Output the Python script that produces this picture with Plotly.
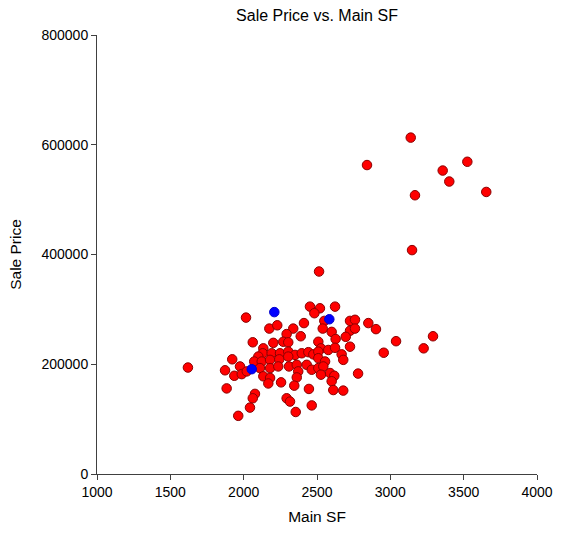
import plotly.graph_objects as go

# Main floor area (sq ft) and sale price for each sold home
main_sf = [
    1620, 3139, 2841, 3357, 3525, 3402, 3168, 3654, 3148, 2514,
    2623, 2016, 2452, 2520, 2482, 2411, 2175, 2229, 2550, 2539,
    2725, 2759, 2850, 2902, 2600, 2725, 2759, 2338, 2293, 2389,
    2627, 2696, 2062, 2202, 2270, 2304, 2509, 2134, 2527, 2577,
    2623, 2725, 2130, 2191, 2248, 2304, 2350, 2396, 2441, 2475,
    2509, 2668, 2679, 1922, 2100, 1873, 1975, 1936, 1987, 2021,
    2072, 2123, 2180, 2243, 2304, 2111, 2180, 2236, 2309, 2134,
    2180, 2168, 2255, 1884, 2077, 2062, 2043, 1963, 2293, 2316,
    2509, 2555, 2362, 2372, 2362, 2430, 2464, 2509, 2543, 2527,
    2589, 2618, 2600, 2345, 2445, 2611, 2679, 2780, 2464, 2355,
    3039, 2955, 3291, 3227,
]
sale_price = [
    194000, 613000, 563000, 553000, 569000, 533000, 508000, 514000, 408000, 369000,
    305000, 285000, 305000, 302000, 293000, 275000, 265000, 271000, 279000, 265000,
    279000, 281000, 275000, 264000, 259000, 261000, 265000, 265000, 255000, 251000,
    246000, 250000, 240000, 239000, 241000, 240000, 241000, 229000, 229000, 226000,
    230000, 232000, 220000, 220000, 220000, 223000, 217000, 220000, 222000, 218000,
    223000, 218000, 208000, 209000, 214000, 189000, 196000, 179000, 182000, 187000,
    205000, 205000, 208000, 209000, 214000, 193000, 193000, 196000, 196000, 178000,
    175000, 165000, 167000, 156000, 146000, 138000, 121000, 106000, 138000, 132000,
    211000, 205000, 199000, 187000, 176000, 199000, 190000, 193000, 196000, 181000,
    184000, 179000, 169000, 161000, 155000, 153000, 152000, 183000, 125000, 113000,
    242000, 221000, 251000, 229000,
]

# Highlighted homes
hl_main_sf = [2055, 2209, 2584]
hl_sale_price = [191000, 295000, 282000]

FONT = "Liberation Sans, Arial, sans-serif"
AXIS_COLOR = "#404040"

fig = go.Figure()
fig.add_trace(go.Scatter(
    x=main_sf, y=sale_price, mode="markers",
    marker=dict(size=9.5, color="#FF0000", line=dict(color="#8B0000", width=1)),
    showlegend=False, hoverinfo="x+y",
))
fig.add_trace(go.Scatter(
    x=hl_main_sf, y=hl_sale_price, mode="markers",
    marker=dict(size=9.5, color="#0000FF", line=dict(color="#0000CC", width=1)),
    showlegend=False, hoverinfo="x+y",
))

axis_common = dict(
    showgrid=False, zeroline=False, showline=True, linecolor=AXIS_COLOR, linewidth=1,
    ticks="outside", ticklen=5, tickwidth=1, tickcolor=AXIS_COLOR,
    tickfont=dict(family=FONT, size=14, color="#000000"),
    automargin=False,
)

fig.update_layout(
    width=563, height=534,
    margin=dict(l=97, r=26, t=35, b=60),
    paper_bgcolor="white", plot_bgcolor="white",
    font=dict(family=FONT, color="#000000"),
    title=dict(
        text="Sale Price vs. Main SF",
        font=dict(family=FONT, size=16, color="#000000"),
        x=(97 + 537) / 2 / 563, xanchor="center",
        y=1 - 15 / 534, yanchor="middle", yref="container",
    ),
    xaxis=dict(
        range=[1000, 4000], tickmode="linear", tick0=1000, dtick=500,
        title=dict(text="Main SF", font=dict(family=FONT, size=15.5), standoff=12),
        **axis_common,
    ),
    yaxis=dict(
        range=[0, 800000], tickmode="linear", tick0=0, dtick=200000,
        tickformat="d",
        title=dict(text="Sale Price", font=dict(family=FONT, size=15.5), standoff=16),
        **axis_common,
    ),
)

fig.write_html("out.html")
